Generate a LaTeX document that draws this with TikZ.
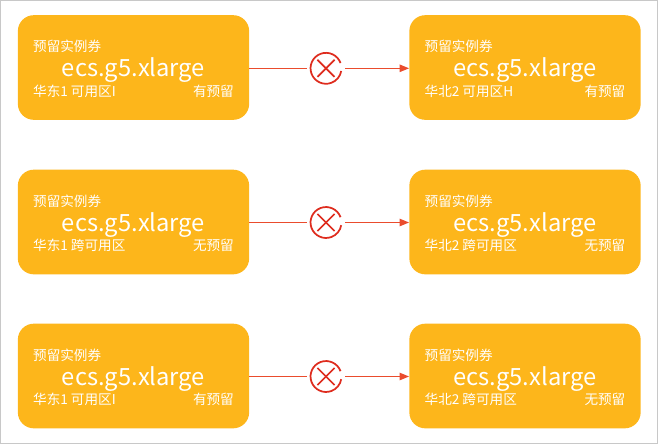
\documentclass[tikz,border=0pt]{standalone}
\usepackage{fontspec}
\setmainfont{Noto Sans CJK SC}
\usetikzlibrary{arrows.meta}
\definecolor{boxfill}{RGB}{253,182,27}
\definecolor{linkred}{RGB}{234,76,45}
\definecolor{crossred}{RGB}{222,44,30}
\definecolor{frame}{RGB}{200,200,200}
\tikzset{
  card/.style={draw=none, fill=boxfill, rounded corners=12pt, minimum width=173.5pt, minimum height=78.5pt, inner sep=0pt},
  small/.style={text=white, font=\fontsize{10.2pt}{12pt}\selectfont, inner sep=0pt},
  big/.style={text=white, font=\fontsize{17.8pt}{20pt}\selectfont, inner sep=0pt, anchor=base},
  blocker/.style={circle, minimum size=28.5pt, inner sep=0pt, draw=none},
  link/.style={draw=linkred, line width=0.9pt},
  linkarrow/.style={link, -{Triangle[length=7pt, width=5.5pt]}},
  cross/.style={crossred, line width=1.3pt},
}
\begin{document}
\begin{tikzpicture}[x=0.75pt, y=-0.75pt]
\useasboundingbox (0,0) rectangle (658,444);
\draw[frame, line width=0.75pt] (0.5,0.5) rectangle (657.5,443.5);

% cards
\node[card] (L1) at (133.5,67.5) {};
\node[card] (R1) at (525,67.5) {};
\node[card] (L2) at (133.5,222) {};
\node[card] (R2) at (525,222) {};
\node[card] (L3) at (133.5,376) {};
\node[card] (R3) at (525,376) {};
% blockers
\node[blocker] (X1) at (326,68.3) {};
\node[blocker] (X2) at (326,222.5) {};
\node[blocker] (X3) at (326,376.5) {};

% texts
\foreach \c/\bl/\br in {L1/{华东1 可用区I}/{有预留},
                        R1/{华北2 可用区H}/{有预留},
                        L2/{华东1 跨可用区}/{无预留},
                        R2/{华北2 跨可用区}/{无预留},
                        L3/{华东1 可用区I}/{有预留},
                        R3/{华北2 跨可用区}/{无预留}}{
  \node[small, anchor=base west] (\c t) at ([xshift=11.5pt, yshift=-27.5pt]\c.north west) {预留实例券};
  \node[big] (\c b) at ([yshift=-46.5pt]\c.north) {ecs.g5.xlarge};
  \node[small, anchor=base west] (\c l) at ([xshift=11.5pt, yshift=-61pt]\c.north west) {\bl};
  \node[small, anchor=base east] (\c r) at ([xshift=-11.5pt, yshift=-61pt]\c.north east) {\br};
}

% connectors
\foreach \i in {1,2,3}{
  \draw[link] (L\i.east |- X\i.center) -- (X\i.west);
  \draw[linkarrow] (X\i.east) -- (R\i.west |- X\i.center);
  \draw[cross] ([shift={(20:11.6pt)}]X\i.center) arc[start angle=20, end angle=350, radius=11.6pt];
  \draw[cross] ([shift={(-6.4pt,-6.4pt)}]X\i.center) -- ([shift={(6.4pt,6.4pt)}]X\i.center);
  \draw[cross] ([shift={(-6.4pt,6.4pt)}]X\i.center) -- ([shift={(6.4pt,-6.4pt)}]X\i.center);
}
\end{tikzpicture}
\end{document}
